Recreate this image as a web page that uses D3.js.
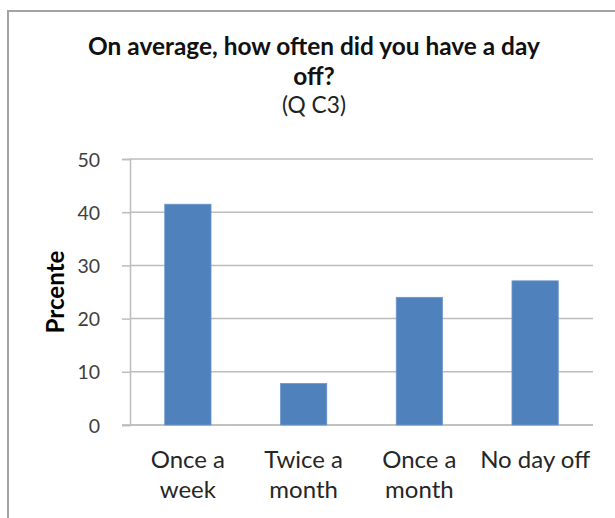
<!DOCTYPE html>
<html>
<head>
<meta charset="utf-8">
<script src="https://cdn.jsdelivr.net/npm/d3@7"></script>
<style>
  html, body { margin: 0; padding: 0; background: #fff; }
  svg { display: block; }
  text { font-family: Lato, "Open Sans", "DejaVu Sans", sans-serif; }
</style>
</head>
<body>
<svg id="chart" width="615" height="518"></svg>
<script>
// ---- data ----
const categories = [["Once a", "week"], ["Twice a", "month"], ["Once a", "month"], ["No day off"]];
const values = [41.5, 7.8, 24.0, 27.1];
const yTicks = [0, 10, 20, 30, 40, 50];
const titleLines = ["On average, how often did you have a day", "off?"];
const subtitle = "(Q C3)";
const yTitle = "Prcente";

const svg = d3.select("#chart");

// fit font-size of a group so that reference text gets target width
function fitFont(sel, refNode, base, target) {
  sel.style("font-size", base + "px");
  const w = refNode.getComputedTextLength();
  const s = base * target / w;
  sel.style("font-size", s + "px");
  return s;
}

// outer border (chart area extends past the window on right/bottom)
svg.append("rect")
  .attr("x", 8).attr("y", 11)
  .attr("width", 700).attr("height", 600)
  .attr("fill", "#fff")
  .attr("stroke", "#a3a3a3").attr("stroke-width", 2);

const margin = { left: 130, right: 593, top: 159, bottom: 425 };

const x = d3.scaleBand()
  .domain(d3.range(categories.length))
  .range([margin.left, margin.right])
  .paddingInner(0.6).paddingOuter(0.3);

const y = d3.scaleLinear().domain([0, 50]).range([margin.bottom, margin.top]);

// gridlines
svg.append("g").selectAll("line").data(yTicks).join("line")
  .attr("x1", margin.left).attr("x2", margin.right)
  .attr("y1", d => y(d)).attr("y2", d => y(d))
  .attr("stroke", "#bdbdbd").attr("stroke-width", 1.5);

// y axis
const yAxis = svg.append("g")
  .attr("transform", `translate(${margin.left},0)`)
  .call(d3.axisLeft(y).tickValues(yTicks).tickSize(8).tickPadding(22).tickFormat(d3.format("d")));
yAxis.attr("font-size", null).attr("font-family", null);
yAxis.select(".domain").attr("stroke", "#bdbdbd").attr("stroke-width", 1.5);
yAxis.selectAll(".tick line").attr("stroke", "#bdbdbd").attr("stroke-width", 1.5);
yAxis.selectAll(".tick text")
  .attr("fill", "#404040")
  .attr("dy", "0.36em")
  .style("font-size", "19.5px");

// baseline with tick extension on left
svg.append("line")
  .attr("x1", margin.left - 8).attr("x2", margin.right)
  .attr("y1", y(0)).attr("y2", y(0))
  .attr("stroke", "#bdbdbd").attr("stroke-width", 1.5);

// bars
svg.append("g").selectAll("rect").data(values).join("rect")
  .attr("x", (d, i) => x(i))
  .attr("width", x.bandwidth())
  .attr("y", d => y(d))
  .attr("height", d => y(0) - y(d))
  .attr("fill", "#4f81bd")
  .attr("stroke", "#6d97cc").attr("stroke-width", 0.8);

// x labels
const xl = svg.append("g").selectAll("text").data(categories).join("text")
  .attr("text-anchor", "middle")
  .attr("fill", "#262626")
  .attr("x", (d, i) => x(i) + x.bandwidth() / 2)
  .attr("y", 468);
xl.selectAll("tspan").data(d => d).join("tspan")
  .attr("x", function () { return d3.select(this.parentNode).attr("x"); })
  .attr("dy", (d, i) => i === 0 ? 0 : 30)
  .text(d => d);
fitFont(xl, xl.filter((d, i) => i === 3).node(), 20, 110);

// y title
const yt = svg.append("text")
  .attr("transform", `translate(64,292) rotate(-90)`)
  .attr("text-anchor", "middle")
  .attr("font-weight", "bold")
  .attr("fill", "#000")
  .text(yTitle);
fitFont(yt, yt.node(), 18, 83);

// title
const cx = 314;
const tl = svg.append("g").selectAll("text").data(titleLines).join("text")
  .attr("x", cx)
  .attr("y", (d, i) => 55 + i * 30)
  .attr("text-anchor", "middle")
  .attr("font-weight", "bold")
  .attr("fill", "#111")
  .text(d => d);
fitFont(tl, tl.filter((d, i) => i === 0).node(), 19, 452);

const st = svg.append("text")
  .attr("x", cx).attr("y", 113)
  .attr("text-anchor", "middle")
  .attr("fill", "#222")
  .text(subtitle);
fitFont(st, st.node(), 18, 64);
</script>
</body>
</html>
